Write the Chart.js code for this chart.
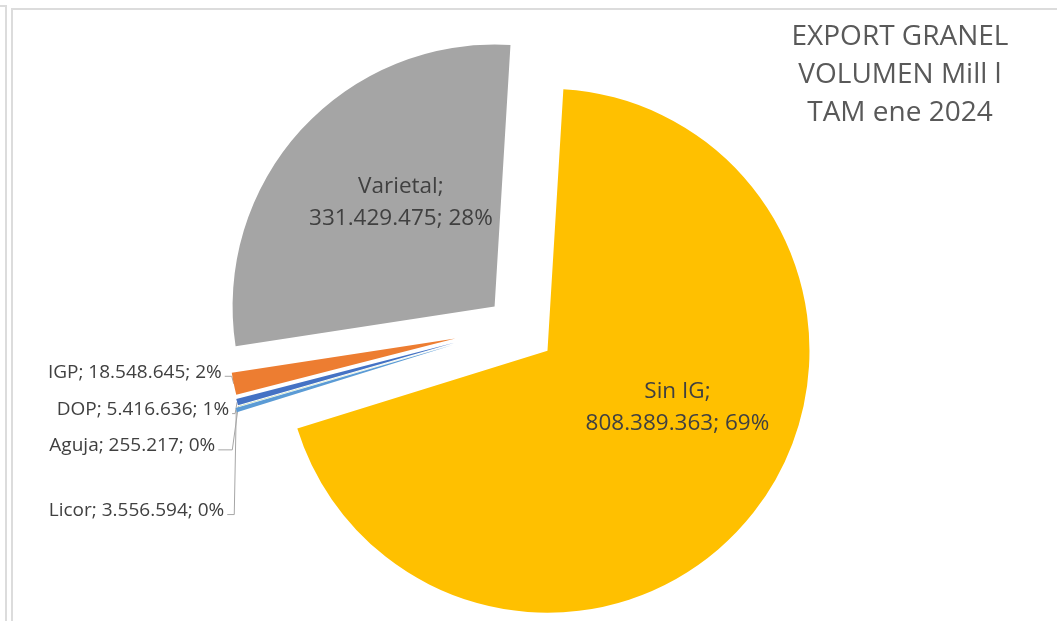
<!DOCTYPE html>
<html lang="es">
<head>
<meta charset="UTF-8">
<title>Export granel - volumen</title>
<script src="https://cdn.jsdelivr.net/npm/chart.js@4.4.1/dist/chart.umd.min.js"></script>
<style>
    html, body { margin: 0; padding: 0; background: #ffffff; }
    body { width: 1057px; height: 621px; overflow: hidden; position: relative; }
    .marco-ext { position: absolute; left: -10px; top: 5px; width: 15px; height: 700px;
                 border-top: 2px solid #dcdcdc; border-right: 2px solid #dcdcdc; }
    .marco { position: absolute; left: 11px; top: 8px; width: 1100px; height: 700px;
             border-top: 2px solid #dcdcdc; border-left: 2px solid #dcdcdc; }
    canvas { position: absolute; left: 0; top: 0; }
</style>
</head>
<body>
<div class="marco-ext"></div>
<div class="marco"></div>
<canvas id="grafico" width="1057" height="621"></canvas>

<script>
    // Datos (orden de la serie en sentido horario)
    const categorias  = ['DOP', 'IGP', 'Varietal', 'Sin IG', 'Licor', 'Aguja'];
    const volumenes   = [5416636, 18548645, 331429475, 808389363, 3556594, 255217];
    const porcentajes = [1, 2, 28, 69, 0, 0];
    const colores     = ['#4472C4', '#ED7D31', '#A5A5A5', '#FFC000', '#5B9BD5', '#70AD47'];
    const titulo      = ['EXPORT GRANEL', 'VOLUMEN Mill l', 'TAM ene 2024'];

    // estilo de la tarta "explotada"
    const explosion   = [63, 62, 29, 40, 66, 63];
    const escalaRadio = [0.863, 0.863, 1, 1, 0.863, 0.863];

    // etiquetas dentro del sector: giro (grados) y fracción del radio
    const etiquetasDentro = { 2: { giro: 3.85, frac: 0.517 }, 3: { giro: -12.3, frac: 0.551 } };
    // etiquetas fuera: desplazamiento respecto al borde exterior del sector
    const etiquetasFuera = {
        1: { dx: -12, dy: -6,  codo: -2 },
        0: { dx: -8,  dy: 13,  codo: -2 },
        5: { dx: -23, dy: 45,  codo: -6 },
        4: { dx: -12, dy: 106, codo: -2 }
    };

    const FUENTE = '"Open Sans", "DejaVu Sans", sans-serif';

    function formatoNum(v) {
        return String(v).replace(/\B(?=(\d{3})+(?!\d))/g, '.');
    }

    const explotar = {
        id: 'explotar',
        afterDatasetsUpdate(chart) {
            const meta = chart.getDatasetMeta(0);
            const ca = chart.chartArea;
            const cx = (ca.left + ca.right) / 2;
            const cy = (ca.top + ca.bottom) / 2;
            const r = meta.controller.outerRadius;
            meta.data.forEach((arc, i) => {
                const mid = (arc.startAngle + arc.endAngle) / 2;
                arc.x = cx + explosion[i] * Math.cos(mid);
                arc.y = cy + explosion[i] * Math.sin(mid);
                arc.outerRadius = r * escalaRadio[i];
            });
        }
    };

    function puntoExterior(arc) {
        const mid = (arc.startAngle + arc.endAngle) / 2;
        return { x: arc.x + arc.outerRadius * Math.cos(mid), y: arc.y + arc.outerRadius * Math.sin(mid) };
    }

    const etiquetas = {
        id: 'etiquetas',
        beforeDatasetsDraw(chart) {
            // líneas guía bajo los sectores
            const ctx = chart.ctx;
            const meta = chart.getDatasetMeta(0);
            ctx.save();
            ctx.strokeStyle = '#a6a6a6';
            ctx.lineWidth = 1;
            Object.keys(etiquetasFuera).forEach(k => {
                const i = +k, cfg = etiquetasFuera[k];
                const p = puntoExterior(meta.data[i]);
                const xDer = p.x + cfg.dx;
                const yBase = p.y + cfg.dy;
                ctx.beginPath();
                ctx.moveTo(xDer + 3, yBase - 1.5);
                ctx.lineTo(p.x + cfg.codo, yBase - 1.5);
                ctx.lineTo(p.x, p.y);
                ctx.stroke();
            });
            ctx.restore();
        },
        afterDatasetsDraw(chart) {
            const ctx = chart.ctx;
            const meta = chart.getDatasetMeta(0);
            ctx.save();
            ctx.fillStyle = '#404040';
            ctx.textBaseline = 'alphabetic';

            // dentro
            ctx.font = '22.5px ' + FUENTE;
            ctx.textAlign = 'center';
            Object.keys(etiquetasDentro).forEach(k => {
                const i = +k, cfg = etiquetasDentro[k];
                const arc = meta.data[i];
                const ang = (arc.startAngle + arc.endAngle) / 2 + cfg.giro * Math.PI / 180;
                const d = arc.outerRadius * cfg.frac;
                const x = arc.x + d * Math.cos(ang);
                const y = arc.y + d * Math.sin(ang);
                ctx.fillText(categorias[i] + ';', x, y - 16);
                ctx.fillText(formatoNum(volumenes[i]) + '; ' + porcentajes[i] + '%', x, y + 16);
            });

            // fuera
            ctx.font = '19px ' + FUENTE;
            ctx.textAlign = 'right';
            Object.keys(etiquetasFuera).forEach(k => {
                const i = +k, cfg = etiquetasFuera[k];
                const p = puntoExterior(meta.data[i]);
                ctx.fillText(categorias[i] + '; ' + formatoNum(volumenes[i]) + '; ' + porcentajes[i] + '%',
                             p.x + cfg.dx, p.y + cfg.dy);
            });

            // título
            ctx.fillStyle = '#595959';
            ctx.font = '28px ' + FUENTE;
            ctx.textAlign = 'center';
            titulo.forEach((t, j) => ctx.fillText(t, 900, 45 + j * 38));
            ctx.restore();
        }
    };

    function dibujar() {
        new Chart(document.getElementById('grafico'), {
            type: 'pie',
            data: {
                labels: categorias,
                datasets: [{
                    data: volumenes,
                    backgroundColor: colores,
                    borderWidth: 0
                }]
            },
            options: {
                responsive: false,
                animation: false,
                events: [],
                rotation: -106.1,
                radius: 262,
                layout: { padding: { left: 0, right: 25, top: 31, bottom: 0 } },
                plugins: {
                    legend: { display: false },
                    tooltip: { enabled: false },
                    title: { display: false }
                }
            },
            plugins: [explotar, etiquetas]
        });
    }

    if (document.fonts && document.fonts.load) {
        document.fonts.load('22px "Open Sans"').then(dibujar, dibujar);
    } else {
        dibujar();
    }
</script>
</body>
</html>
